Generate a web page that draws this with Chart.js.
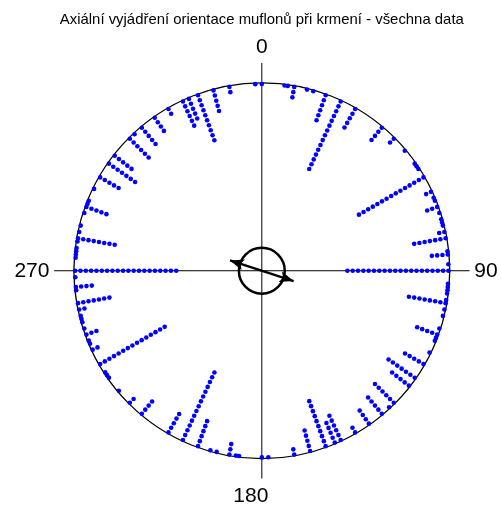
<!DOCTYPE html>
<html lang="cs">
<head>
    <meta charset="UTF-8">
    <title>Axiální vyjádření orientace muflonů</title>
    <script src="https://cdn.jsdelivr.net/npm/chart.js"></script>
    <style>
        body {
            margin: 0;
            background-color: white;
        }
        .chart-container {
            position: relative;
            width: 501px;
            height: 509px;
        }
    </style>
</head>
<body>
    <div class="chart-container">
        <canvas id="orientChart"></canvas>
    </div>

    <script>
        // directions (degrees) 0-180 and number of animals in each; axial data so every one is shown also at +180
        const halfAngles = [0, 7, 8, 10, 14, 16, 20, 25, 30, 40, 45, 50, 55, 56, 57, 60, 65, 67, 68, 70,
                            72, 74, 75, 76, 78, 80, 84, 85, 88, 90, 94, 95, 96, 97, 99, 100, 102, 104, 108, 110,
                            111, 112, 116, 120, 125, 128, 135, 137, 140, 145, 150, 155, 157, 160, 165, 170, 178];
        const halfCounts = [1, 1, 1, 3, 1, 1, 6, 15, 5, 4, 2, 1, 1, 1, 1, 15, 2, 1, 1, 3,
                            1, 1, 1, 1, 2, 7, 1, 4, 1, 20, 1, 1, 1, 1, 1, 8, 1, 1, 1, 5,
                            1, 1, 1, 5, 7, 5, 6, 1, 5, 4, 2, 6, 5, 10, 5, 2, 1];
        const tickAngles = [0, 90, 180, 270];
        const tickLabels = ['0', '90', '180', '270'];
        const meanAngle = 108;      // mean axis
        const meanLength = 0.178;   // length of mean vector (circle radius = 1)
        const critRadius = 0.122;   // radius of the inner circle
        const titleText = 'Axiální vyjádření orientace muflonů při krmení - všechna data';

        // stacking of dots from the rim inward
        const firstR = 0.993;
        const stepR = 0.0283;

        const points = [];
        [0, 180].forEach(off => {
            halfAngles.forEach((a, i) => {
                const t = (a + off) * Math.PI / 180;
                for (let k = 0; k < halfCounts[i]; k++) {
                    const r = firstR - k * stepR;
                    points.push({ x: r * Math.sin(t), y: r * Math.cos(t) });
                }
            });
        });

        const decor = {
            id: 'decor',
            beforeDatasetsDraw(chart) {
                const { ctx, scales: { x, y } } = chart;
                const cx = x.getPixelForValue(0);
                const cy = y.getPixelForValue(0);
                const px = (a, r) => [x.getPixelForValue(r * Math.sin(a * Math.PI / 180)),
                                      y.getPixelForValue(r * Math.cos(a * Math.PI / 180))];
                const R = x.getPixelForValue(1) - cx;
                ctx.save();
                ctx.strokeStyle = '#000';

                // cross
                ctx.lineWidth = 1;
                ctx.beginPath();
                ctx.moveTo(...px(270, 1.105)); ctx.lineTo(...px(90, 1.105));
                ctx.moveTo(...px(0, 1.105)); ctx.lineTo(...px(180, 1.105));
                ctx.stroke();

                // outer circle
                ctx.lineWidth = 1.3;
                ctx.beginPath();
                ctx.arc(cx, cy, R, 0, Math.PI * 2);
                ctx.stroke();

                // inner circle
                ctx.lineWidth = 2.5;
                ctx.beginPath();
                ctx.arc(cx, cy, critRadius * R, 0, Math.PI * 2);
                ctx.stroke();

                // mean axis with two arrow heads
                ctx.lineWidth = 2.3;
                const p1 = px(meanAngle, meanLength);
                const p2 = px(meanAngle + 180, meanLength);
                ctx.beginPath();
                ctx.moveTo(...p2); ctx.lineTo(...p1);
                ctx.stroke();
                [[p1, p2], [p2, p1]].forEach(([tip, from]) => {
                    const ang = Math.atan2(tip[1] - from[1], tip[0] - from[0]);
                    const len = 14, w = 5.5;
                    const bx = tip[0] - len * Math.cos(ang), by = tip[1] - len * Math.sin(ang);
                    ctx.beginPath();
                    ctx.moveTo(tip[0], tip[1]);
                    ctx.lineTo(bx + w * Math.sin(ang), by - w * Math.cos(ang));
                    ctx.lineTo(bx + 3 * Math.cos(ang), by + 3 * Math.sin(ang));
                    ctx.lineTo(bx - w * Math.sin(ang), by + w * Math.cos(ang));
                    ctx.closePath();
                    ctx.fillStyle = '#000';
                    ctx.fill();
                });

                // direction labels
                ctx.fillStyle = '#000';
                ctx.font = '21px "Liberation Sans", Arial, sans-serif';
                ctx.textBaseline = 'middle';
                tickAngles.forEach((a, i) => {
                    let [tx, ty] = px(a, a === 0 ? 1.19 : (a === 180 ? 1.2 : 1.13));
                    if (a === 180) tx -= 11;
                    ctx.textAlign = a === 90 ? 'left' : (a === 270 ? 'right' : 'center');
                    ctx.fillText(tickLabels[i], tx, ty);
                });

                // title
                ctx.font = '15px "Liberation Sans", Arial, sans-serif';
                ctx.textAlign = 'center';
                ctx.fillText(titleText, cx, 20, 404);
                ctx.restore();
            }
        };

        const ctx = document.getElementById('orientChart').getContext('2d');
        new Chart(ctx, {
            type: 'scatter',
            data: {
                datasets: [{
                    data: points,
                    pointRadius: 2.3,
                    pointBorderWidth: 0,
                    pointBackgroundColor: '#0000ff',
                    pointBorderColor: '#0000ff'
                }]
            },
            options: {
                responsive: true,
                maintainAspectRatio: false,
                animation: false,
                layout: { padding: 0 },
                scales: {
                    x: { display: false, min: -262 / 191, max: 239 / 191 },
                    y: { display: false, min: -238 / 191, max: 271 / 191 }
                },
                plugins: {
                    legend: { display: false },
                    tooltip: { enabled: false }
                }
            },
            plugins: [decor]
        });
    </script>
</body>
</html>
